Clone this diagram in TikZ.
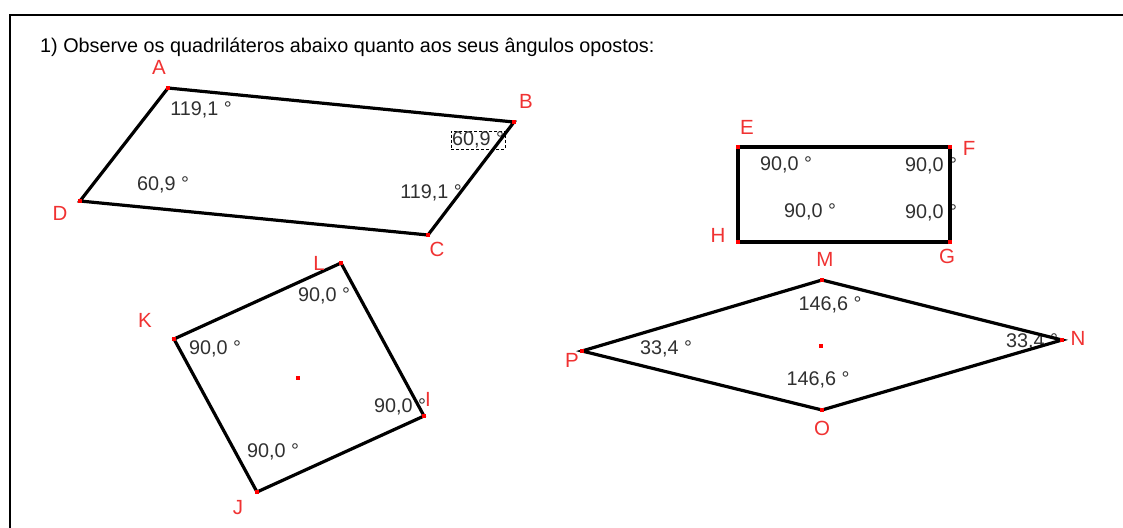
\documentclass[tikz,border=0pt]{standalone}
\usepackage{fontspec}
\setmainfont{Liberation Sans}
\definecolor{vred}{HTML}{F03232}
\definecolor{agray}{HTML}{303030}
\begin{document}
\begin{tikzpicture}[x=1pt,y=-1pt,
  edge/.style={line width=3.2pt, black, line join=miter},
  vlab/.style={text=vred, font=\fontsize{20.5}{20}\selectfont, inner sep=0pt},
  alab/.style={text=agray, font=\fontsize{19.8}{20}\selectfont, inner sep=0pt},
  vpt/.style={fill=red, draw=none, minimum size=4pt, inner sep=0pt, rectangle},
  frame/.style={line width=1.8pt, black}]
\useasboundingbox (0,0) rectangle (1123,527);
% frame
\coordinate (f1) at (10,530);
\coordinate (f2) at (10,15);
\coordinate (f3) at (1125,15);
\draw[frame] (f1) -- (f2) -- (f3);
\node[anchor=west, text=black, font=\fontsize{19.8}{20}\selectfont, inner sep=0pt] (title) at (40,47) {1) Observe os quadriláteros abaixo quanto aos seus ângulos opostos:};
% angle labels (drawn below the edges)
\node[alab] (aA) at (201,110) {119,1 °};
\node[alab, draw=black, densely dashed, line width=0.6pt, inner sep=1pt] (aB) at (478,140) {60,9 °};
\node[alab] (aD) at (163,185) {60,9 °};
\node[alab] (aC) at (431,193) {119,1 °};
\node[alab] (aE) at (786,165) {90,0 °};
\node[alab] (aF) at (931,166) {90,0 °};
\node[alab] (aH) at (810,212) {90,0 °};
\node[alab] (aG) at (931,213) {90,0 °};
\node[alab] (aL) at (324,296) {90,0 °};
\node[alab] (aK) at (215,349) {90,0 °};
\node[alab] (aI) at (400,407) {90,0 °};
\node[alab] (aJ) at (273,452) {90,0 °};
\node[alab] (aM) at (830,305) {146,6 °};
\node[alab] (aP) at (666,349) {33,4 °};
\node[alab] (aO) at (818,380) {146,6 °};
\node[alab] (aN) at (1032,342) {33,4 °};
% parallelogram
\coordinate (A) at (168,88);
\coordinate (B) at (514,122);
\coordinate (C) at (428,235);
\coordinate (D) at (80,201);
\draw[edge] (A) -- (B) -- (C) -- (D) -- cycle;
% rectangle
\coordinate (E) at (738,147);
\coordinate (F) at (950,147);
\coordinate (G) at (950,242);
\coordinate (H) at (738,242);
\draw[edge] (E) -- (F) -- (G) -- (H) -- cycle;
% square
\coordinate (L) at (341,263);
\coordinate (I) at (424,416);
\coordinate (J) at (257,492);
\coordinate (K) at (174,339);
\draw[edge] (K) -- (L) -- (I) -- (J) -- cycle;
% rhombus
\coordinate (M) at (822,280);
\coordinate (N) at (1062,340);
\coordinate (O) at (822,410);
\coordinate (P) at (582,351);
\draw[edge] (M) -- (N) -- (O) -- (P) -- cycle;
% centre points
\coordinate (sqc) at (298,378);
\coordinate (rhc) at (821,346);
% vertex points
\foreach \p in {A,B,C,D,E,F,G,H,I,J,K,L,M,N,O,P,sqc,rhc}
  \node[vpt] (pt\p) at (\p) {};
% vertex labels
\node[vlab] (lA) at (159,67) {A};
\node[vlab] (lB) at (526,101) {B};
\node[vlab] (lC) at (437,249) {C};
\node[vlab] (lD) at (60,213) {D};
\node[vlab] (lE) at (747,127) {E};
\node[vlab] (lF) at (969,148) {F};
\node[vlab] (lG) at (947,256) {G};
\node[vlab] (lH) at (718,235) {H};
\node[vlab] (lL) at (319,263) {L};
\node[vlab] (lK) at (145,320) {K};
\node[vlab] (lI) at (428,399) {I};
\node[vlab] (lJ) at (238,508) {J};
\node[vlab] (lM) at (825,259) {M};
\node[vlab] (lN) at (1078,338) {N};
\node[vlab] (lO) at (822,428) {O};
\node[vlab] (lP) at (572,360) {P};
\end{tikzpicture}
\end{document}
